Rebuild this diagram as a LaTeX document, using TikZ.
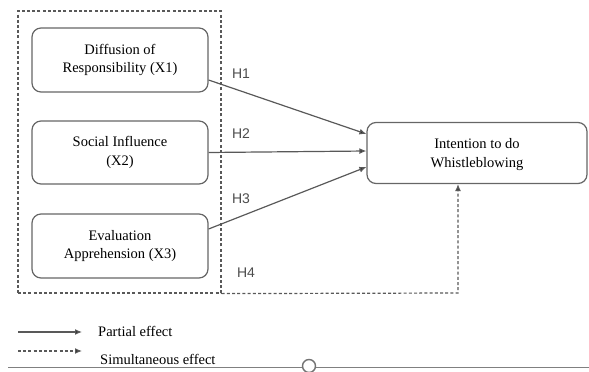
\documentclass[tikz,border=0pt]{standalone}
\usepackage{fontspec}
\setmainfont{Liberation Serif}
\newfontfamily\hfont{Liberation Sans}
\usetikzlibrary{arrows.meta,calc}
\begin{document}
\begin{tikzpicture}[x=1pt,y=-1pt,
  varbox/.style={draw=black!60, line width=1.2pt, rounded corners=9pt, align=center,
    font=\fontsize{14.5}{18.5}\selectfont, text=black},
  partial/.style={draw=black!65, line width=1.2pt, -{Latex[length=7pt,width=6pt,fill=black!85]}},
  simul/.style={draw=black!65, line width=1.2pt, dash pattern=on 3pt off 2.2pt, -{Latex[length=7pt,width=6pt,fill=black!85]}},
  grpbox/.style={draw=black!65, line width=1.2pt, dash pattern=on 3pt off 2.2pt, inner sep=0pt},
  hlab/.style={font=\hfont\fontsize{14}{16}\selectfont, text=black!70},
  legtext/.style={font=\fontsize{14.5}{18}\selectfont, text=black, anchor=west, inner sep=0pt}]
\useasboundingbox (0,0) rectangle (589,372);

% group box
\node[grpbox, minimum width=203pt, minimum height=282pt] (grp) at (119.5,152) {};

% variable boxes
\node[varbox, minimum width=176pt, minimum height=64pt] (x1) at (120,60) {Diffusion of\\Responsibility (X1)};
\node[varbox, minimum width=176pt, minimum height=63pt] (x2) at (120,152.5) {Social Influence\\(X2)};
\node[varbox, minimum width=176pt, minimum height=64pt] (x3) at (120,246) {Evaluation\\Apprehension (X3)};
\node[varbox, minimum width=220pt, minimum height=61pt, text depth=0pt] (int) at (477,153) {Intention to do\\Whistleblowing};

% partial effects
\draw[partial] ([yshift=-20pt]x1.east) -- ([yshift=19pt]int.west);
\draw[partial] (x2.east) -- ([yshift=2pt]int.west);
\draw[partial] ([yshift=17pt]x3.east) -- ([yshift=-14pt]int.west);

% simultaneous effect
\coordinate (c4) at (458,293);
\draw[simul] (grp.south east) -- (c4) -- (c4 |- int.south);

% labels
\node[hlab] (h1) at (241,74) {H1};
\node[hlab] (h2) at (241,134) {H2};
\node[hlab] (h3) at (241,199) {H3};
\node[hlab] (h4) at (246,273) {H4};

% legend
\coordinate (la) at (18,332);
\coordinate (lb) at (82,332);
\coordinate (lc) at (18,351);
\coordinate (ld) at (82,351);
\draw[partial] (la) -- (lb);
\draw[simul] (lc) -- (ld);
\node[legtext] (t1) at (98,331) {Partial effect};
\node[legtext] (t2) at (100,359) {Simultaneous effect};

% bottom rule with circle
\draw[black!50, line width=0.9pt] (8,367) -- (589,367);
\draw[black!55, line width=1.4pt, fill=white] (309,366) circle (6.5);
\end{tikzpicture}
\end{document}
